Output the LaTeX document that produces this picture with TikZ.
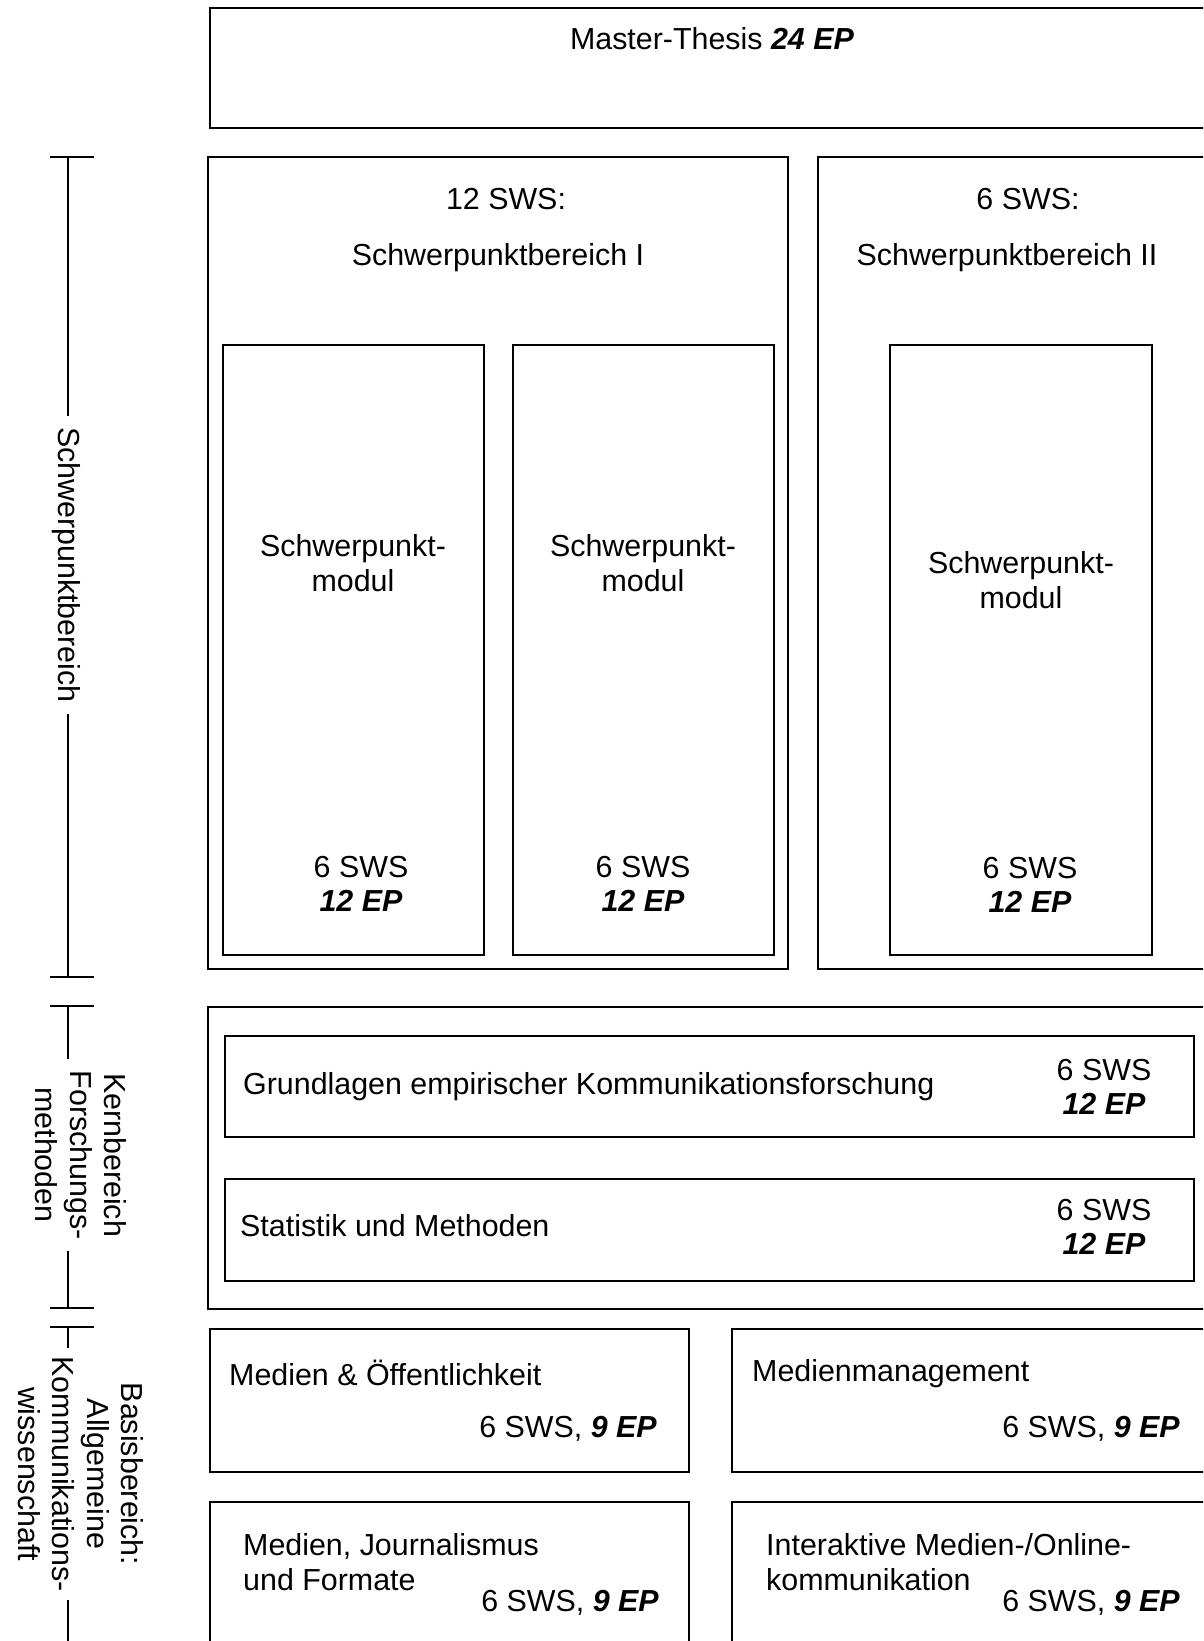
\documentclass[tikz,border=0pt]{standalone}
\usepackage{fontspec}
\setmainfont{Liberation Sans}
\tikzset{box/.style={draw,line width=2.2pt},
  brk/.style={line width=2.2pt},
  txt/.style={inner sep=0pt,font=\fontsize{30.4}{34.5}\selectfont},
  side/.style={txt,rotate=-90,align=center,inner xsep=11pt}}
\newcommand{\ep}[1]{\textbf{\textit{#1}}}

\begin{document}
\begin{tikzpicture}[x=1pt,y=-1pt]
\useasboundingbox (0,0) rectangle (1203,1641);
\clip (0,0) rectangle (1203,1641);
% Master-Thesis
\draw[box] (210,8) rectangle (1230,128);
\node[txt] (thesis) at (712,39) {Master-Thesis \ep{24 EP}};
% Schwerpunktbereiche
\draw[box] (208,157) rectangle (788,969);
\draw[box] (818,157) rectangle (1230,969);
\node[txt] (swsI) at (506,199) {12 SWS:};
\node[txt] (spbI) at (498,258) {Schwerpunktbereich I};
\node[txt] (swsII) at (1028,199) {6 SWS:};
\node[txt] (spbII) at (1007,258) {Schwerpunktbereich II};
\draw[box] (223,345) rectangle (484,955);
\draw[box] (513,345) rectangle (774,955);
\draw[box] (890,345) rectangle (1152,955);
\node[txt,align=center] (modA) at (353,563) {Schwerpunkt-\\modul};
\node[txt,align=center] (modB) at (643,563) {Schwerpunkt-\\modul};
\node[txt,align=center] (modC) at (1021,580) {Schwerpunkt-\\modul};
\node[txt,align=center] (crA) at (361,884) {6 SWS\\\ep{12 EP}};
\node[txt,align=center] (crB) at (643,884) {6 SWS\\\ep{12 EP}};
\node[txt,align=center] (crC) at (1030,885) {6 SWS\\\ep{12 EP}};
% Kernbereich
\draw[box] (208,1007) rectangle (1230,1309);
\draw[box] (225,1036) rectangle (1194,1137);
\draw[box] (225,1179) rectangle (1194,1281);
\node[txt,anchor=west] (gek) at (243,1087) {Grundlagen empirischer Kommunikationsforschung};
\node[txt,align=center] (gekcr) at (1104,1087) {6 SWS\\\ep{12 EP}};
\node[txt,anchor=west] (stm) at (240,1226) {Statistik und Methoden};
\node[txt,align=center] (stmcr) at (1104,1227) {6 SWS\\\ep{12 EP}};
% Basisbereich
\draw[box] (210,1329) rectangle (689,1472);
\draw[box] (732,1329) rectangle (1230,1472);
\draw[box] (210,1502) rectangle (689,1700);
\draw[box] (732,1502) rectangle (1230,1700);
\node[txt,anchor=west] (moe) at (229,1373) {Medien \& Öffentlichkeit};
\node[txt,anchor=east] (moecr) at (657,1429) {6 SWS, \ep{9 EP}};
\node[txt,anchor=west] (mm) at (752,1374) {Medienmanagement};
\node[txt,anchor=east] (mmcr) at (1180,1429) {6 SWS, \ep{9 EP}};
\node[txt,anchor=west,align=left] (mjf) at (243,1562) {Medien, Journalismus\\und Formate};
\node[txt,anchor=east] (mjfcr) at (659,1603) {6 SWS, \ep{9 EP}};
\node[txt,anchor=west,align=left] (imo) at (766,1562) {Interaktive Medien-/Online-\\kommunikation};
\node[txt,anchor=east] (imocr) at (1180,1603) {6 SWS, \ep{9 EP}};
% Klammern links
\coordinate (spTop) at (68,157);
\coordinate (spBot) at (68,977);
\coordinate (kbTop) at (68,1006);
\coordinate (kbBot) at (68,1308);
\coordinate (bbTop) at (68,1327);
\coordinate (bbBot) at (68,1700);
\node[side] (spLbl) at (66,565) {Schwerpunktbereich};
\node[side] (kbLbl) at (81,1155) {Kernbereich\\Forschungs-\\methoden};
\node[side,inner xsep=8pt] (bbLbl) at (81,1474) {Basisbereich:\\Allgemeine\\Kommunikations-\\wissenschaft};
\draw[brk] (spTop) -- (spTop |- spLbl.west);
\draw[brk] (spLbl.east -| spBot) -- (spBot);
\draw[brk] (kbTop) -- (kbTop |- kbLbl.west);
\draw[brk] (kbLbl.east -| kbBot) -- (kbBot);
\draw[brk] (bbTop) -- (bbTop |- bbLbl.west);
\draw[brk] (bbLbl.east -| bbBot) -- (bbBot);
\foreach \t in {spTop,spBot,kbTop,kbBot,bbTop}
  \draw[brk] ([xshift=-18pt]\t) -- ([xshift=26pt]\t);
\end{tikzpicture}
\end{document}
